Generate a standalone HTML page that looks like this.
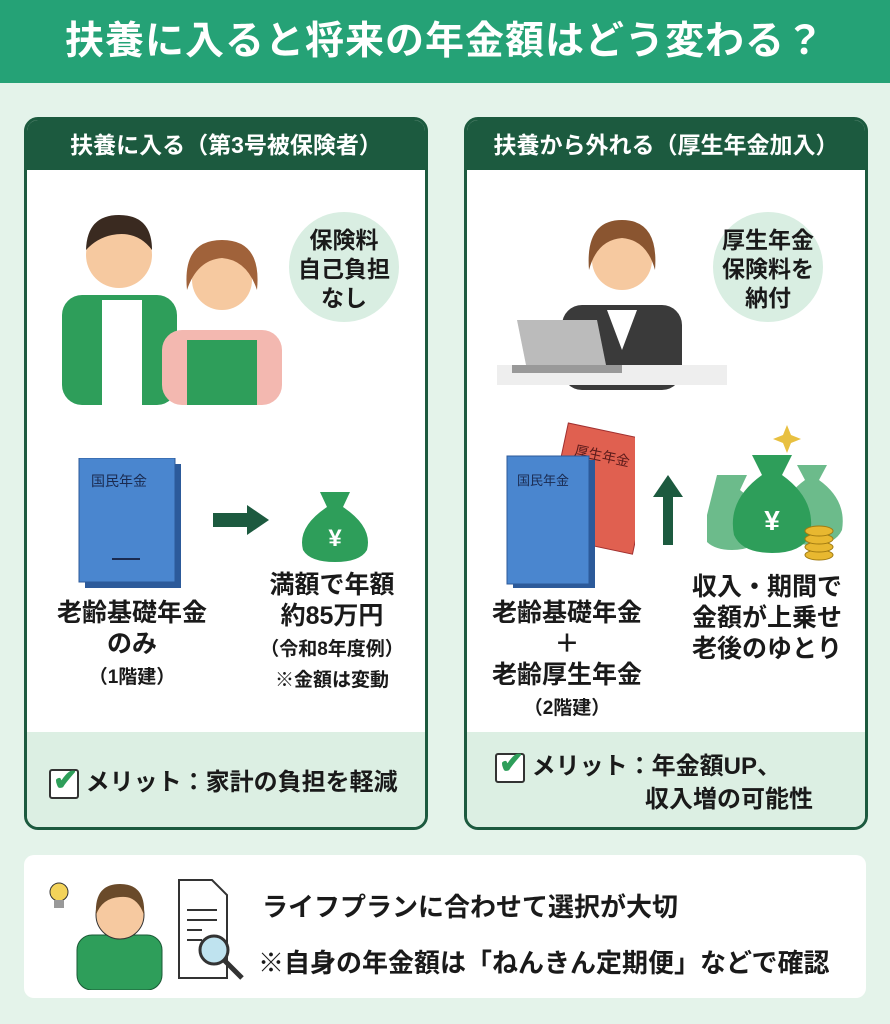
<!DOCTYPE html>
<html><head><meta charset="utf-8"><style>
*{margin:0;padding:0;box-sizing:border-box}
body{width:890px;height:1024px;background:#e4f3ea;font-family:"Liberation Sans","Noto Sans CJK JP",sans-serif;position:relative;overflow:hidden;color:#1a1a1a;font-weight:bold}
.abs{position:absolute}
.hdr{left:0;top:0;width:890px;height:83px;background:#25a276;color:#fff;font-size:39px;text-align:center;line-height:83px;letter-spacing:1px}
.card{top:117px;width:404px;height:713px;border:3px solid #1c5a3f;border-radius:14px;background:#fff;overflow:hidden}
.ch{height:50px;background:#1c5a3f;color:#fff;font-size:23px;text-align:center;line-height:50px}
.foot{position:absolute;left:0;bottom:0;width:100%;height:95px;background:#dcefe3}
.t{position:absolute;text-align:center;font-size:25px;line-height:31px}
.s{font-size:19px;line-height:24px}
.bubble{position:absolute;width:110px;height:110px;border-radius:50%;background:#d9eee2;font-size:23px;line-height:29px;text-align:center;padding-top:14px}
.chk{display:inline-block;width:30px;height:30px;border:2px solid #333;border-radius:3px;vertical-align:middle;position:relative;background:#fff}
</style></head><body>
<div class="abs hdr">扶養に入ると将来の年金額はどう変わる？</div>

<div class="abs card" style="left:24px">
 <div class="ch">扶養に入る（第3号被保険者）</div>
 <svg class="abs" style="left:30px;top:80px" width="260" height="205">
  <rect x="5" y="95" width="115" height="110" rx="20" fill="#2e9e5a"/><rect x="45" y="100" width="40" height="105" fill="#fff"/>
  <circle cx="62" cy="55" r="33" fill="#f6c9a0"/><path d="M29 50 Q30 15 62 15 Q95 15 95 50 Q80 30 55 35 Q40 38 29 50Z" fill="#3a2a20"/>
  <rect x="105" y="130" width="120" height="75" rx="20" fill="#f3b8b0"/><rect x="130" y="140" width="70" height="65" fill="#2e9e5a"/>
  <circle cx="165" cy="80" r="30" fill="#f6c9a0"/><path d="M130 90 Q125 40 165 40 Q205 40 200 90 Q190 60 165 58 Q140 60 130 90Z" fill="#a0623a"/>
 </svg>
 <div class="bubble" style="left:262px;top:92px">保険料<br>自己負担<br>なし</div>
 <svg class="abs" style="left:50px;top:338px" width="110" height="132"><rect x="8" y="6" width="96" height="124" fill="#2c5a9a"/><rect x="2" y="0" width="96" height="124" fill="#4a86cf" stroke="#2c5a9a"/><text x="14" y="28" font-size="14" fill="#1a2a50" font-weight="normal" font-family="Noto Sans CJK JP">国民年金</text><rect x="35" y="100" width="28" height="2" fill="#1a2a50"/></svg>
 <svg class="abs" style="left:186px;top:385px" width="60" height="30"><rect x="0" y="8" width="36" height="14" fill="#1c5a3f"/><polygon points="34,0 56,15 34,30" fill="#1c5a3f"/></svg>
 <svg class="abs" style="left:268px;top:352px" width="80" height="90"><path d="M25 20 L55 20 L48 35 Q78 55 72 78 Q65 90 40 90 Q15 90 8 78 Q2 55 32 35Z" fill="#2e9e5a"/><text x="40" y="74" font-size="24" fill="#fff" text-anchor="middle">¥</text></svg>
 <div class="t" style="left:5px;top:478px;width:200px">老齢基礎年金<br>のみ<br><span class="s">（1階建）</span></div>
 <div class="t" style="left:205px;top:450px;width:200px">満額で年額<br>約85万円<br><span class="s">（令和8年度例）<br>※金額は変動</span></div>
 <div class="foot"><div style="position:absolute;left:22px;top:30px;font-size:24px"><span class="chk"><span style="position:absolute;left:2px;top:-8px;color:#2e9e5a;font-size:30px">✔</span></span> メリット：家計の負担を軽減</div></div>
</div>

<div class="abs card" style="left:464px">
 <div class="ch">扶養から外れる（厚生年金加入）</div>
 <svg class="abs" style="left:30px;top:80px" width="230" height="200">
  <rect x="65" y="105" width="120" height="85" rx="20" fill="#3a3a3a"/><polygon points="110,110 140,110 125,150" fill="#fff"/>
  <circle cx="125" cy="60" r="30" fill="#f6c9a0"/><path d="M92 70 Q88 20 125 20 Q162 20 158 70 Q150 40 125 38 Q100 40 92 70Z" fill="#8a5530"/>
  <rect x="0" y="165" width="230" height="20" fill="#eee"/><polygon points="20,120 100,120 110,170 30,170" fill="#bbb"/><rect x="15" y="165" width="110" height="8" fill="#999"/>
 </svg>
 <div class="bubble" style="left:246px;top:92px">厚生年金<br>保険料を<br>納付</div>
 <svg class="abs" style="left:38px;top:300px" width="130" height="170"><g transform="rotate(12 90 70)"><rect x="50" y="10" width="90" height="115" fill="#e06050" stroke="#a03030"/><text x="62" y="40" font-size="14" fill="#5a1a1a" font-weight="normal" font-family="Noto Sans CJK JP">厚生年金</text></g><rect x="8" y="40" width="82" height="128" fill="#2c5a9a"/><rect x="2" y="36" width="82" height="128" fill="#4a86cf" stroke="#2c5a9a"/><text x="12" y="65" font-size="13" fill="#1a2a50" font-weight="normal" font-family="Noto Sans CJK JP">国民年金</text></svg>
 <svg class="abs" style="left:186px;top:355px" width="30" height="70"><polygon points="15,0 30,22 20,22 20,70 10,70 10,22 0,22" fill="#1c5a3f"/></svg>
 <svg class="abs" style="left:240px;top:305px" width="140" height="140"><path d="M80 0 l4 10 10 4 -10 4 -4 10 -4 -10 -10 -4 10 -4z" fill="#e8c040"/><path d="M90 40 L120 40 L112 55 Q140 75 135 105 Q128 120 105 120 Q80 120 75 105 Q70 75 98 55Z" fill="#2e9e5a" opacity=".7"/><path d="M10 50 L40 50 L33 65 Q60 85 55 110 Q48 125 25 125 Q2 125 -5 110" fill="#2e9e5a" opacity=".7"/><path d="M45 30 L85 30 L75 50 Q110 75 103 110 Q95 128 65 128 Q35 128 27 110 Q20 75 55 50Z" fill="#2e9e5a"/><text x="65" y="105" font-size="28" fill="#fff" text-anchor="middle">¥</text><g fill="#e8b830" stroke="#a07a10"><ellipse cx="112" cy="130" rx="14" ry="5"/><ellipse cx="112" cy="122" rx="14" ry="5"/><ellipse cx="112" cy="114" rx="14" ry="5"/><ellipse cx="112" cy="106" rx="14" ry="5"/></g></svg>
 <div class="t" style="left:0px;top:478px;width:200px">老齢基礎年金<br>＋<br>老齢厚生年金<br><span class="s">（2階建）</span></div>
 <div class="t" style="left:200px;top:452px;width:200px">収入・期間で<br>金額が上乗せ<br>老後のゆとり</div>
 <div class="foot"><div style="position:absolute;left:28px;top:18px;font-size:24px;line-height:33px"><span class="chk"><span style="position:absolute;left:2px;top:-8px;color:#2e9e5a;font-size:30px">✔</span></span> メリット：年金額UP、<br><span style="padding-left:150px">収入増の可能性</span></div></div>
</div>

<div class="abs" style="left:24px;top:855px;width:842px;height:143px;background:#fff;border-radius:10px">
 <svg class="abs" style="left:18px;top:15px" width="230" height="120">
  <circle cx="17" cy="22" r="9" fill="#f3d35a" stroke="#333"/><rect x="12" y="30" width="10" height="8" fill="#999"/>
  <rect x="35" y="65" width="85" height="55" rx="15" fill="#2e9e5a" stroke="#1a5a35"/>
  <circle cx="78" cy="45" r="24" fill="#f6c9a0" stroke="#333"/><path d="M54 45 Q52 14 78 14 Q104 14 102 45 Q95 25 78 27 Q60 28 54 45Z" fill="#6a4a2a"/>
  <path d="M137 10 L170 10 L185 25 L185 108 L137 108Z" fill="#fff" stroke="#333" stroke-width="2"/><g stroke="#333" stroke-width="2"><line x1="145" y1="40" x2="175" y2="40"/><line x1="145" y1="50" x2="175" y2="50"/><line x1="145" y1="60" x2="160" y2="60"/><line x1="145" y1="70" x2="160" y2="70"/></g>
  <circle cx="172" cy="80" r="14" fill="#bfe3ef" stroke="#333" stroke-width="3"/><line x1="182" y1="90" x2="200" y2="108" stroke="#333" stroke-width="5"/>
 </svg>
 <div class="abs" style="left:238px;top:32px;font-size:26px">ライフプランに合わせて選択が大切</div>
 <div class="abs" style="left:234px;top:88px;font-size:26px">※自身の年金額は「ねんきん定期便」などで確認</div>
</div>
</body></html>
